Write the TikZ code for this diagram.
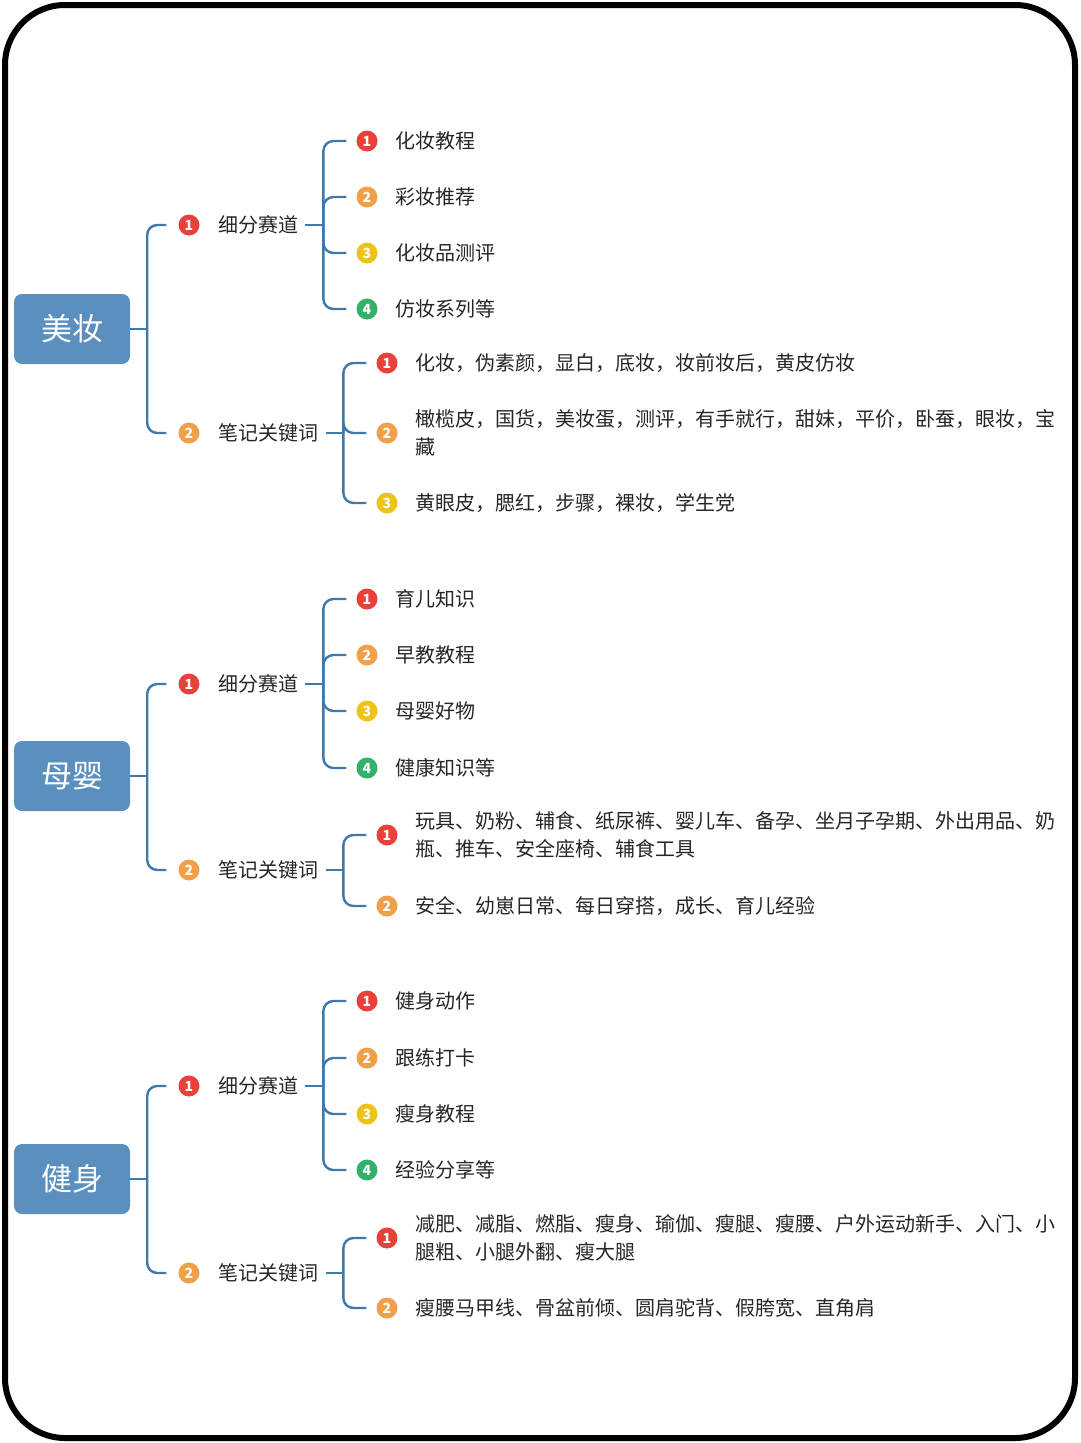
\documentclass[tikz,border=0pt]{standalone}
\usepackage{fontspec}
\setmainfont{Noto Sans CJK SC}
\usetikzlibrary{calc}
\definecolor{rootblue}{HTML}{5B8FBE}
\definecolor{linkblue}{HTML}{3F78AA}
\definecolor{nred}{HTML}{E8413A}
\definecolor{norange}{HTML}{F0A04B}
\definecolor{nyellow}{HTML}{EEC317}
\definecolor{ngreen}{HTML}{33B06A}
\tikzset{
  rootbox/.style={fill=rootblue, rounded corners=8pt, minimum width=116pt, minimum height=70pt, text=white, font=\fontsize{31}{36}\selectfont},
  badge/.style={circle, fill=#1, minimum size=21pt, inner sep=0pt, text=white, font=\fontsize{14}{14}\selectfont\bfseries},
  label/.style={anchor=west, inner sep=0pt, font=\fontsize{20}{28}\selectfont, text=black!85},
  link/.style={draw=linkblue, line width=2.4pt, rounded corners=10pt},
}
\begin{document}
\begin{tikzpicture}[x=1pt,y=-1pt]
    \useasboundingbox (0,0) rectangle (1080,1443);
    % frame
    \draw[line width=6pt, rounded corners=60pt] (5,5) rectangle (1075,1438);

    % ---------- 美妆 ----------
    \node[rootbox] (mz) at (72,329) {美妆};
    \node[badge=nred] (mzb1) at (189,225) {1};
    \node[label] (mzs1) at (218,225) {细分赛道};
    \node[badge=norange] (mzb2) at (189,433) {2};
    \node[label] (mzs2) at (218,433) {笔记关键词};
    \coordinate (mzj) at ($(mz.east)+(17,0)$);
    \coordinate (mzj1) at ($(mzs1.east)+(25,0)$);
    \coordinate (mzj2) at ($(mzs2.east)+(25,0)$);
    \draw[link] (mz.east) -- (mzj);
    \draw[link, shorten <=7pt] (mzs1.east) -- (mzj1);
    \draw[link, shorten <=8pt] (mzs2.east) -- (mzj2);
    \draw[link, shorten >=12pt] (mzj) |- (mzb1.west);
    \draw[link, shorten >=12pt] (mzj) |- (mzb2.west);
    \foreach \y/\c/\n/\t [count=\i] in {141/nred/1/化妆教程, 197/norange/2/彩妆推荐, 253/nyellow/3/化妆品测评, 309/ngreen/4/仿妆系列等} {
        \node[badge=\c] (mza\i) at (367,\y) {\n};
        \node[label] (mzat\i) at (395,\y) {\t};
        \draw[link, shorten >=10pt] (mzj1) |- (mza\i.west);
    }
    \foreach \y/\c/\n/\t [count=\i] in {363/nred/1/{化妆，伪素颜，显白，底妆，妆前妆后，黄皮仿妆}, 433/norange/2/{橄榄皮，国货，美妆蛋，测评，有手就行，甜妹，平价，卧蚕，眼妆，宝\\藏}, 503/nyellow/3/{黄眼皮，腮红，步骤，裸妆，学生党}} {
        \node[badge=\c] (mzk\i) at (387,\y) {\n};
        \node[label, align=left] (mzkt\i) at (415,\y) {\t};
        \draw[link, shorten >=10pt] (mzj2) |- (mzk\i.west);
    }

    % ---------- 母婴 ----------
    \node[rootbox] (my) at (72,776) {母婴};
    \node[badge=nred] (myb1) at (189,684) {1};
    \node[label] (mys1) at (218,684) {细分赛道};
    \node[badge=norange] (myb2) at (189,870) {2};
    \node[label] (mys2) at (218,870) {笔记关键词};
    \coordinate (myj) at ($(my.east)+(17,0)$);
    \coordinate (myj1) at ($(mys1.east)+(25,0)$);
    \coordinate (myj2) at ($(mys2.east)+(25,0)$);
    \draw[link] (my.east) -- (myj);
    \draw[link, shorten <=7pt] (mys1.east) -- (myj1);
    \draw[link, shorten <=8pt] (mys2.east) -- (myj2);
    \draw[link, shorten >=12pt] (myj) |- (myb1.west);
    \draw[link, shorten >=12pt] (myj) |- (myb2.west);
    \foreach \y/\c/\n/\t [count=\i] in {599/nred/1/育儿知识, 655/norange/2/早教教程, 711/nyellow/3/母婴好物, 768/ngreen/4/健康知识等} {
        \node[badge=\c] (mya\i) at (367,\y) {\n};
        \node[label] (myat\i) at (395,\y) {\t};
        \draw[link, shorten >=10pt] (myj1) |- (mya\i.west);
    }
    \foreach \y/\c/\n/\t [count=\i] in {835/nred/1/{玩具、奶粉、辅食、纸尿裤、婴儿车、备孕、坐月子孕期、外出用品、奶\\瓶、推车、安全座椅、辅食工具}, 906/norange/2/{安全、幼崽日常、每日穿搭，成长、育儿经验}} {
        \node[badge=\c] (myk\i) at (387,\y) {\n};
        \node[label, align=left] (mykt\i) at (415,\y) {\t};
        \draw[link, shorten >=10pt] (myj2) |- (myk\i.west);
    }

    % ---------- 健身 ----------
    \node[rootbox] (js) at (72,1179) {健身};
    \node[badge=nred] (jsb1) at (189,1086) {1};
    \node[label] (jss1) at (218,1086) {细分赛道};
    \node[badge=norange] (jsb2) at (189,1273) {2};
    \node[label] (jss2) at (218,1273) {笔记关键词};
    \coordinate (jsj) at ($(js.east)+(17,0)$);
    \coordinate (jsj1) at ($(jss1.east)+(25,0)$);
    \coordinate (jsj2) at ($(jss2.east)+(25,0)$);
    \draw[link] (js.east) -- (jsj);
    \draw[link, shorten <=7pt] (jss1.east) -- (jsj1);
    \draw[link, shorten <=8pt] (jss2.east) -- (jsj2);
    \draw[link, shorten >=12pt] (jsj) |- (jsb1.west);
    \draw[link, shorten >=12pt] (jsj) |- (jsb2.west);
    \foreach \y/\c/\n/\t [count=\i] in {1001/nred/1/健身动作, 1058/norange/2/跟练打卡, 1114/nyellow/3/瘦身教程, 1170/ngreen/4/经验分享等} {
        \node[badge=\c] (jsa\i) at (367,\y) {\n};
        \node[label] (jsat\i) at (395,\y) {\t};
        \draw[link, shorten >=10pt] (jsj1) |- (jsa\i.west);
    }
    \foreach \y/\c/\n/\t [count=\i] in {1238/nred/1/{减肥、减脂、燃脂、瘦身、瑜伽、瘦腿、瘦腰、户外运动新手、入门、小\\腿粗、小腿外翻、瘦大腿}, 1308/norange/2/{瘦腰马甲线、骨盆前倾、圆肩驼背、假胯宽、直角肩}} {
        \node[badge=\c] (jsk\i) at (387,\y) {\n};
        \node[label, align=left] (jskt\i) at (415,\y) {\t};
        \draw[link, shorten >=10pt] (jsj2) |- (jsk\i.west);
    }
\end{tikzpicture}
\end{document}
